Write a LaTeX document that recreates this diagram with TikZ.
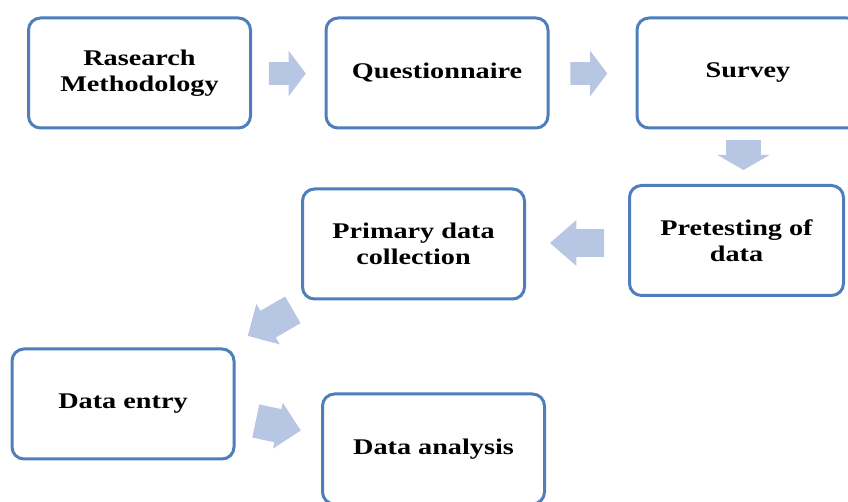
\documentclass[tikz,border=0pt]{standalone}
\usepackage{fontspec}
\setmainfont{Liberation Serif}[FakeStretch=1.26]
\usepackage{tikz}
\usetikzlibrary{shapes.arrows}
\definecolor{boxblue}{RGB}{79,126,186}
\definecolor{arrowblue}{RGB}{183,198,226}
\tikzstyle{stage}=[draw=boxblue,line width=1.5pt,rounded corners=6pt,fill=white,minimum width=111pt,minimum height=55pt,align=center,inner sep=2pt,font=\bfseries\fontsize{11.2}{13}\selectfont]
\tikzstyle{flow}=[single arrow,fill=arrowblue,draw=none,inner xsep=0pt,single arrow head indent=0pt]

\begin{document}
\begin{tikzpicture}[x=0.5pt,y=-0.5pt]
\clip (0,0) rectangle (848,502);
% boxes
\node[stage] (meth) at (139.5,73) {Rasearch\\Methodology};
\node[stage] (quest) at (437,73) {Questionnaire};
\node[stage] (survey) at (748,73) {Survey};
\node[stage,minimum width=107pt] (pretest) at (736.5,240.5) {Pretesting of\\data};
\node[stage] (primary) at (413.5,244) {Primary data\\collection};
\node[stage] (entry) at (123,404) {Data entry};
\node[stage] (analysis) at (433.5,449) {Data analysis};

% block arrows
\node[flow,minimum height=18.5pt,inner ysep=5.5pt,single arrow head extend=5.75pt,single arrow tip angle=106] (f1) at (283,73.5) {};
\node[flow,minimum height=18.5pt,inner ysep=5.5pt,single arrow head extend=5.75pt,single arrow tip angle=106] (f2) at (584.5,73.5) {};
\node[flow,minimum height=15pt,inner ysep=8.5pt,single arrow head extend=4.5pt,single arrow tip angle=120,rotate=270] (f3) at (743.5,150) {};
\node[flow,minimum height=27pt,inner ysep=6.75pt,single arrow head extend=4.5pt,single arrow tip angle=82,rotate=180] (f4) at (585,243) {};
\node[flow,minimum height=26pt,inner ysep=7.5pt,single arrow head extend=4pt,single arrow tip angle=90,rotate=210] (f5) at (277,319) {};
\node[flow,minimum height=23pt,inner ysep=8.25pt,single arrow head extend=3.25pt,single arrow tip angle=90,rotate=-12] (f6) at (270,424) {};

\end{tikzpicture}
\end{document}
